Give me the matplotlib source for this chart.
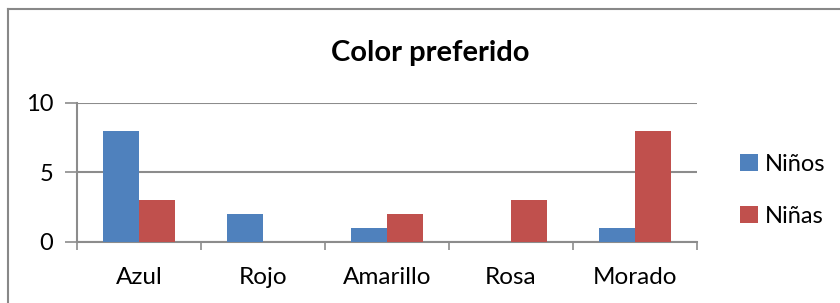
import numpy as np
import matplotlib.pyplot as plt
from matplotlib.lines import Line2D

categories = ['Azul', 'Rojo', 'Amarillo', 'Rosa', 'Morado']
ninos = [8, 2, 1, 0, 1]
ninas = [3, 0, 2, 3, 8]
series_names = ['Niños', 'Niñas']
yticks = [0, 5, 10]

blue = '#4F81BD'
red = '#C0504D'
grid_col = '#8C8C8C'

plt.rcParams['font.family'] = ['Lato', 'DejaVu Sans']

fig = plt.figure(figsize=(8.4, 3.03), dpi=100)
ax = fig.add_axes([0.0917, 0.2023, 0.738, 0.4587])

x = np.arange(len(categories))
w = 0.29
ax.bar(x - w / 2, ninos, w, color=blue, label=series_names[0], zorder=3)
ax.bar(x + w / 2, ninas, w, color=red, label=series_names[1], zorder=3)

ax.set_xlim(-0.5, len(categories) - 0.5)
ax.set_ylim(0, 10)
ax.set_yticks(yticks)
ax.set_yticklabels([str(v) for v in yticks], fontsize=17)
ax.yaxis.grid(True, color=grid_col, linewidth=1.5, zorder=0)
ax.tick_params(axis='y', length=9, width=1.2, color=grid_col, pad=8)

ax.set_xticks(x)
ax.set_xticklabels(categories, fontsize=17.5)
ax.tick_params(axis='x', length=0, pad=18)
ax.set_xticks(np.arange(-0.5, len(categories)), minor=True)
ax.tick_params(axis='x', which='minor', length=6, width=1.2, color=grid_col)

for s in ['top', 'right']:
    ax.spines[s].set_visible(False)
for s in ['left', 'bottom']:
    ax.spines[s].set_color(grid_col)
    ax.spines[s].set_linewidth(1.5)

fig.text(0.512, 0.825, 'Color preferido', ha='center', va='center',
         fontsize=21, fontweight='bold')

ax.legend(loc='center left', bbox_to_anchor=(1.035, 0.37), frameon=False,
          fontsize=17, handlelength=0.75, handleheight=0.75,
          handletextpad=0.3, labelspacing=1.3)

# outer chart frame (only top and left edges show)
fig.add_artist(Line2D([0.0095, 1.0], [0.97, 0.97], color='#888888', lw=1.5))
fig.add_artist(Line2D([0.0095, 0.0095], [0.0, 0.97], color='#888888', lw=1.5))

fig.savefig('out.png', dpi=100)
